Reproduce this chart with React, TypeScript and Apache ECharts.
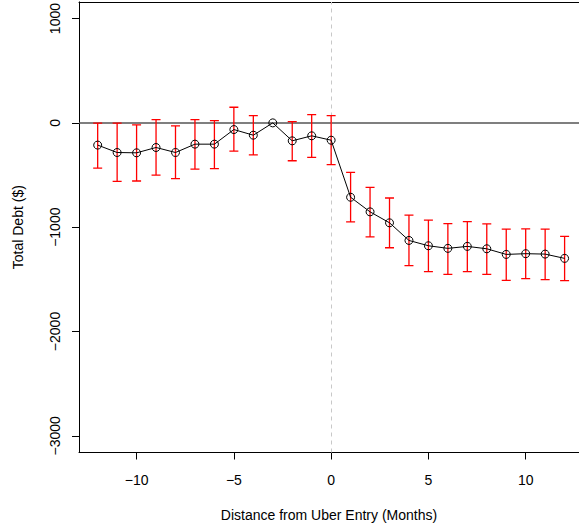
import React, { useEffect, useRef } from "react";
import * as echarts from "echarts";

const months = [-12, -11, -10, -9, -8, -7, -6, -5, -4, -3, -2, -1, 0, 1, 2, 3, 4, 5, 6, 7, 8, 9, 10, 11, 12];
const debt = [-213, -284, -287, -236, -284, -204, -204, -64, -118, 0, -172, -124, -166, -713, -853, -958, -1127, -1178, -1203, -1184, -1207, -1261, -1254, -1258, -1299];
const ciLow = [-433, -560, -557, -500, -535, -443, -439, -271, -306, null, -363, -331, -401, -949, -1092, -1197, -1369, -1426, -1452, -1426, -1452, -1509, -1493, -1503, -1512];
const ciHigh = [-3, -3, -19, 32, -29, 32, 22, 150, 70, null, 13, 79, 70, -474, -618, -720, -885, -933, -965, -946, -968, -1019, -1016, -1019, -1089];
const xTicks = [-10, -5, 0, 5, 10];
const yTicks = [-3000, -2000, -1000, 0, 1000];

const FONT = "'Liberation Sans', Arial, Helvetica, sans-serif";
const fmt = (v: number) => String(v).replace("-", "\u2212");

export default function App() {
  const ref = useRef<HTMLDivElement>(null);
  useEffect(() => {
    if (!ref.current) return;
    const chart = echarts.init(ref.current, null, { renderer: "svg" });
    const lineData = months.map((m, i) => [m, debt[i]]);
    const errData: number[][] = [];
    months.forEach((m, i) => {
      const lo = ciLow[i];
      const hi = ciHigh[i];
      if (lo !== null && hi !== null) errData.push([m, lo as number, hi as number]);
    });
    const XMIN = -12.96;
    const XMAX = 12.74;
    chart.setOption({
      animation: false,
      backgroundColor: "#fff",
      textStyle: { fontFamily: FONT },
      grid: {
        left: 79,
        right: 0,
        top: 0.5,
        bottom: 76.5,
        show: false,
      },
      xAxis: [
        {
          type: "value",
          min: XMIN,
          max: XMAX,
          name: "Distance from Uber Entry (Months)",
          nameLocation: "middle",
          nameGap: 55,
          nameTextStyle: { fontSize: 14, color: "#000", fontFamily: FONT },
          axisLine: { show: true, onZero: false, lineStyle: { color: "#000", width: 1 } },
          axisTick: { show: true, customValues: xTicks, length: 7, lineStyle: { color: "#000" } },
          axisLabel: {
            customValues: xTicks,
            formatter: (v: number) => fmt(v),
            fontSize: 14,
            color: "#000",
            margin: 20,
            fontFamily: FONT,
          },
          splitLine: { show: false },
        },
        {
          type: "value",
          position: "top",
          min: XMIN,
          max: XMAX,
          axisLine: { show: true, onZero: false, lineStyle: { color: "#000", width: 1 } },
          axisTick: { show: false },
          axisLabel: { show: false },
          splitLine: { show: false },
        },
      ],
      yAxis: {
        type: "value",
        min: -3160,
        max: 1160,
        name: "Total Debt ($)",
        nameLocation: "middle",
        nameGap: 54,
        nameRotate: 90,
        nameTextStyle: { fontSize: 14, color: "#000", fontFamily: FONT },
        axisLine: { show: true, onZero: false, lineStyle: { color: "#000", width: 1 } },
        axisTick: { show: true, customValues: yTicks, length: 7, lineStyle: { color: "#000" } },
        axisLabel: {
          customValues: yTicks,
          formatter: (v: number) => fmt(v),
          fontSize: 14,
          color: "#000",
          rotate: 90,
          margin: 17,
          fontFamily: FONT,
        },
        splitLine: { show: false },
      },
      series: [
        {
          type: "custom",
          z: 2,
          silent: true,
          data: errData,
          encode: { x: 0, y: [1, 2] },
          itemStyle: { color: "#ff0000", borderColor: "#ff0000" },
          renderItem: (params: any, api: any) => {
            const x = api.value(0);
            const pLo = api.coord([x, api.value(1)]);
            const pHi = api.coord([x, api.value(2)]);
            const w = 4.5;
            const st = { stroke: "#ff0000", fill: "none", lineWidth: 1.3 };
            return {
              type: "polyline",
              shape: {
                points: [
                  [pLo[0] - w, pLo[1]],
                  [pLo[0] + w, pLo[1]],
                  [pLo[0], pLo[1]],
                  [pHi[0], pHi[1]],
                  [pHi[0] - w, pHi[1]],
                  [pHi[0] + w, pHi[1]],
                ],
              },
              style: st,
            };
          },
        },
        {
          type: "line",
          z: 3,
          data: lineData,
          symbol: "circle",
          symbolSize: 8,
          showSymbol: true,
          lineStyle: { color: "#000", width: 1 },
          itemStyle: { color: "rgba(0,0,0,0)", borderColor: "#000", borderWidth: 1 },
          markLine: {
            silent: true,
            symbol: "none",
            label: { show: false },
            z: 1,
            data: [
              { yAxis: 0, lineStyle: { color: "#555", width: 1.5, type: "solid" } },
              { xAxis: 0, lineStyle: { color: "#c8c8c8", width: 1, type: [4, 4] } },
            ],
          },
        },
      ],
    });
    return () => chart.dispose();
  }, []);
  return <div ref={ref} style={{ position: "fixed", left: 0, top: 0, width: 579, height: 529 }} />;
}
